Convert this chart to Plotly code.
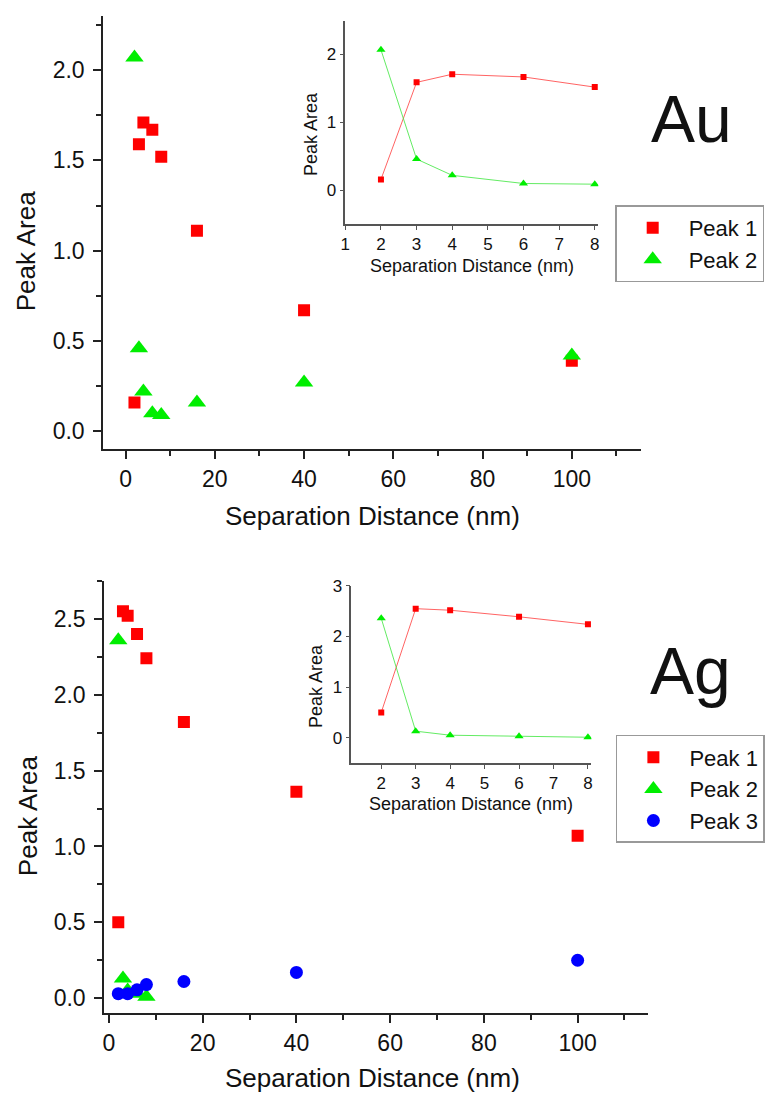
import plotly.graph_objects as go

# ---------------- data ----------------
au_x = [2, 3, 4, 6, 8, 16, 40, 100]
au_peak1 = [0.16, 1.59, 1.71, 1.67, 1.52, 1.11, 0.67, 0.39]
au_peak2 = [2.07, 0.46, 0.22, 0.10, 0.09, 0.16, 0.27, 0.42]

au_inset_x = [2, 3, 4, 6, 8]
au_inset_peak1 = [0.16, 1.59, 1.71, 1.67, 1.52]
au_inset_peak2 = [2.07, 0.46, 0.22, 0.10, 0.09]

ag_x = [2, 3, 4, 6, 8, 16, 40, 100]
ag_peak1 = [0.50, 2.55, 2.52, 2.40, 2.24, 1.82, 1.36, 1.07]
ag_peak2_x = [2, 3, 4, 6, 8]
ag_peak2 = [2.36, 0.13, 0.05, 0.03, 0.01]
ag_peak3_x = [2, 4, 6, 8, 16, 40, 100]
ag_peak3 = [0.03, 0.03, 0.055, 0.09, 0.11, 0.17, 0.25]

ag_inset_x = [2, 3, 4, 6, 8]
ag_inset_peak1 = [0.50, 2.55, 2.52, 2.39, 2.24]
ag_inset_peak2 = [2.36, 0.13, 0.05, 0.03, 0.01]

main_xticks = [0, 20, 40, 60, 80, 100]
au_yticks = [0.0, 0.5, 1.0, 1.5, 2.0]
ag_yticks = [0.0, 0.5, 1.0, 1.5, 2.0, 2.5]
au_inset_xticks = [1, 2, 3, 4, 5, 6, 7, 8]
au_inset_yticks = [0, 1, 2]
ag_inset_xticks = [2, 3, 4, 5, 6, 7, 8]
ag_inset_yticks = [0, 1, 2, 3]

RED = "#FF0000"
GREEN = "#00EE00"
BLUE = "#0000FF"
FONT = "Liberation Sans, Arial, sans-serif"

W, H = 768, 1094


def px(x):
    return x / W


def py(y):
    return 1 - y / H


fig = go.Figure()

# ---------------- Au main ----------------
fig.add_trace(go.Scatter(x=au_x, y=au_peak1, mode="markers", name="Peak 1",
                         marker=dict(symbol="square", size=12, color=RED),
                         xaxis="x", yaxis="y", legend="legend"))
fig.add_trace(go.Scatter(x=au_x, y=au_peak2, mode="markers", name="Peak 2",
                         marker=dict(symbol="triangle-up", size=16, color=GREEN),
                         xaxis="x", yaxis="y", legend="legend"))
# ---------------- Au inset ----------------
fig.add_trace(go.Scatter(x=au_inset_x, y=au_inset_peak1, mode="lines+markers",
                         line=dict(color="rgba(255,60,60,0.8)", width=1),
                         marker=dict(symbol="square", size=6, color=RED),
                         xaxis="x2", yaxis="y2", showlegend=False))
fig.add_trace(go.Scatter(x=au_inset_x, y=au_inset_peak2, mode="lines+markers",
                         line=dict(color="rgba(60,230,60,0.8)", width=1),
                         marker=dict(symbol="triangle-up", size=8, color=GREEN),
                         xaxis="x2", yaxis="y2", showlegend=False))
# ---------------- Ag main ----------------
fig.add_trace(go.Scatter(x=ag_x, y=ag_peak1, mode="markers", name="Peak 1",
                         marker=dict(symbol="square", size=12, color=RED),
                         xaxis="x3", yaxis="y3", legend="legend2"))
fig.add_trace(go.Scatter(x=ag_peak2_x, y=ag_peak2, mode="markers", name="Peak 2",
                         marker=dict(symbol="triangle-up", size=16, color=GREEN),
                         xaxis="x3", yaxis="y3", legend="legend2"))
fig.add_trace(go.Scatter(x=ag_peak3_x, y=ag_peak3, mode="markers", name="Peak 3",
                         marker=dict(symbol="circle", size=13, color=BLUE),
                         xaxis="x3", yaxis="y3", legend="legend2"))
# ---------------- Ag inset ----------------
fig.add_trace(go.Scatter(x=ag_inset_x, y=ag_inset_peak1, mode="lines+markers",
                         line=dict(color="rgba(255,60,60,0.8)", width=1),
                         marker=dict(symbol="square", size=6, color=RED),
                         xaxis="x4", yaxis="y4", showlegend=False))
fig.add_trace(go.Scatter(x=ag_inset_x, y=ag_inset_peak2, mode="lines+markers",
                         line=dict(color="rgba(60,230,60,0.8)", width=1),
                         marker=dict(symbol="triangle-up", size=8, color=GREEN),
                         xaxis="x4", yaxis="y4", showlegend=False))


def main_axis(domain, rng, tickvals, fmt, minor_dtick, anchor, standoff):
    return dict(domain=domain, range=rng, tickvals=tickvals, tickformat=fmt,
                showgrid=False, zeroline=False, showline=True,
                linecolor="#222", linewidth=2, ticks="outside", ticklen=8,
                tickwidth=1.5, tickcolor="#222", ticklabelstandoff=standoff,
                tickfont=dict(family=FONT, size=23, color="#111"),
                minor=dict(dtick=minor_dtick, tick0=0, ticks="outside", ticklen=5,
                           tickwidth=1.5, tickcolor="#222", showgrid=False),
                anchor=anchor, fixedrange=True)


def inset_axis(domain, rng, tickvals, anchor):
    return dict(domain=domain, range=rng, tickvals=tickvals,
                showgrid=False, zeroline=False, showline=True,
                linecolor="#555", linewidth=1.5, ticks="outside", ticklen=4,
                tickwidth=1.2, tickcolor="#555",
                tickfont=dict(family=FONT, size=17, color="#111"),
                anchor=anchor, fixedrange=True)


legend_style = dict(xanchor="left", yanchor="top",
                    bordercolor="#999", borderwidth=1.5, bgcolor="white",
                    font=dict(family=FONT, size=22, color="#111"),
                    itemwidth=62, entrywidth=200, entrywidthmode="pixels",
                    tracegroupgap=0)

fig.update_layout(
    width=W, height=H,
    margin=dict(l=0, r=0, t=0, b=0),
    paper_bgcolor="white", plot_bgcolor="rgba(0,0,0,0)",
    font=dict(family=FONT, color="#111"),
    xaxis=main_axis([px(99), px(641)], [-5, 115.5], main_xticks, "d", 10, "y", 0),
    yaxis=main_axis([py(444), py(7)], [-0.1, 2.3], au_yticks, ".1f", 0.25, "x", 4),
    xaxis2=inset_axis([px(343), px(598)], [1, 8.1], au_inset_xticks, "y2"),
    yaxis2=inset_axis([py(217), py(11.7)], [-0.5, 2.5], au_inset_yticks, "x2"),
    xaxis3=main_axis([px(100), px(648)], [-1, 115], main_xticks, "d", 10, "y3", 0),
    yaxis3=main_axis([py(1012.7), py(576.7)], [-0.1, 2.75], ag_yticks, ".1f", 0.25, "x3", 4),
    xaxis4=inset_axis([px(349), px(591)], [1.13, 8.1], ag_inset_xticks, "y4"),
    yaxis4=inset_axis([py(760.3), py(581.7)], [-0.5, 3], ag_inset_yticks, "x4"),
    legend=dict(x=px(615), y=py(198), **legend_style),
    legend2=dict(x=px(615.7), y=py(732), **legend_style),
)

annots = [
    dict(text="Au", x=px(692), y=py(110.5), font=dict(size=66)),
    dict(text="Ag", x=px(691), y=py(667.5), font=dict(size=66)),
    dict(text="Peak Area", x=px(22), y=py(243.5), font=dict(size=26), textangle=-90),
    dict(text="Peak Area", x=px(23), y=py(813), font=dict(size=26), textangle=-90),
    dict(text="Separation Distance (nm)", x=px(370), y=py(511), font=dict(size=26)),
    dict(text="Separation Distance (nm)", x=px(370), y=py(1078), font=dict(size=26)),
    dict(text="Peak Area", x=px(309), y=py(126.5), font=dict(size=18), textangle=-90),
    dict(text="Peak Area", x=px(314), y=py(683), font=dict(size=18), textangle=-90),
    dict(text="Separation Distance (nm)", x=px(471), y=py(259), font=dict(size=18)),
    dict(text="Separation Distance (nm)", x=px(470), y=py(802), font=dict(size=18)),
]
for a in annots:
    f = dict(family=FONT, color="#111")
    f.update(a.pop("font"))
    fig.add_annotation(xref="paper", yref="paper", xanchor="center", yanchor="middle",
                       showarrow=False, font=f, **a)

fig.write_html("out.html")
